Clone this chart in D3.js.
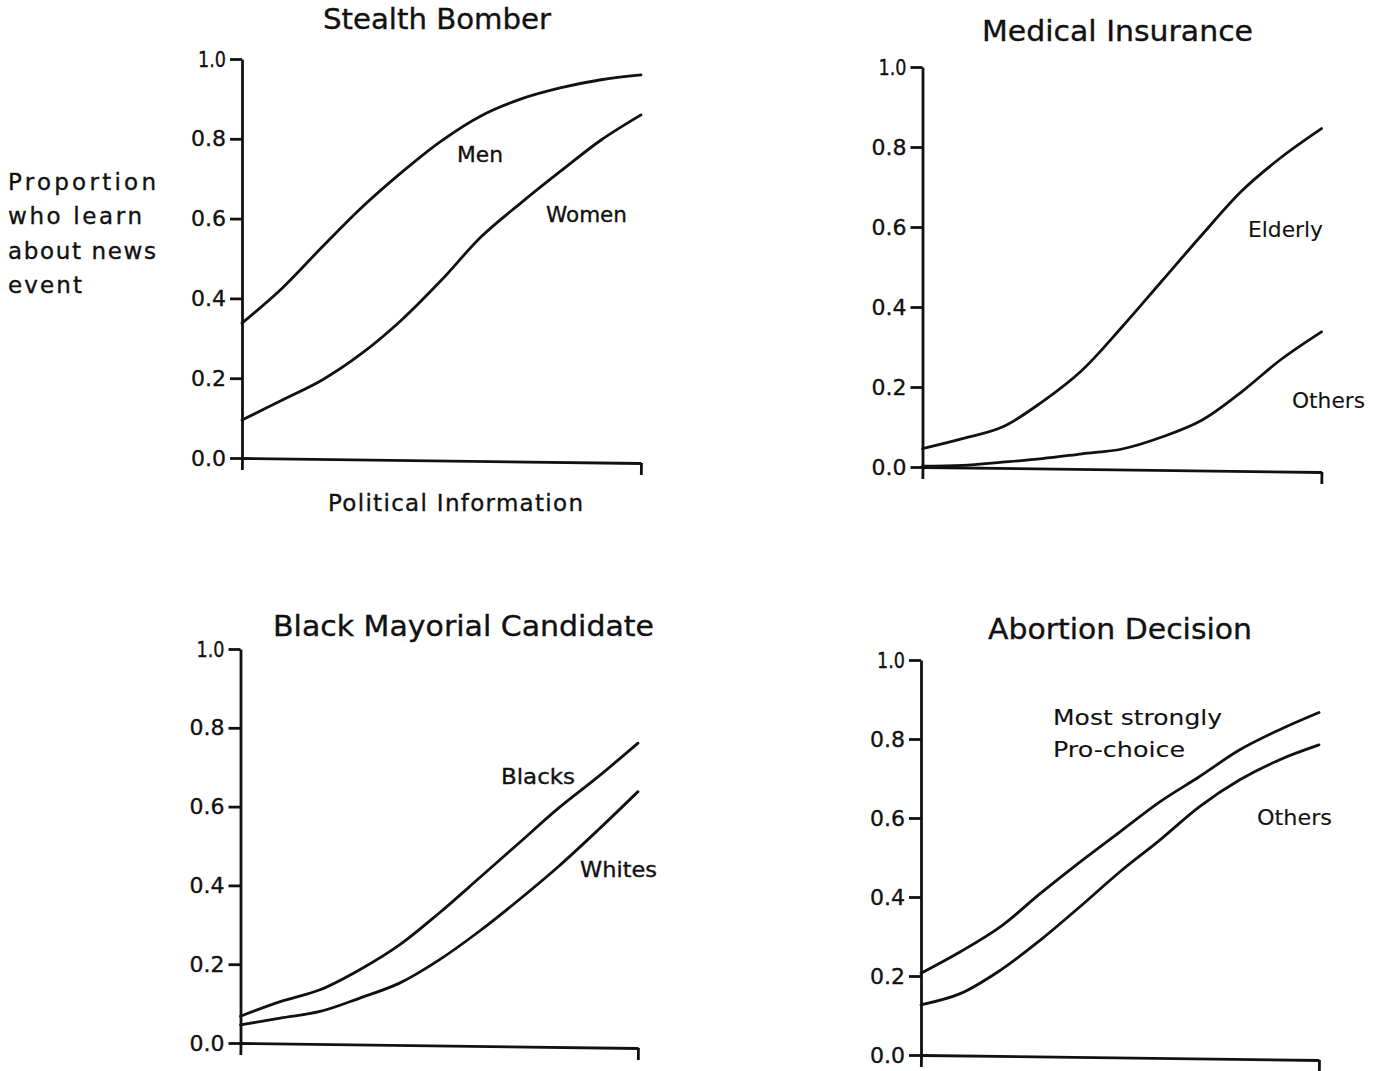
<!DOCTYPE html>
<html>
<head>
<meta charset="utf-8">
<script src="https://cdn.jsdelivr.net/npm/d3@7"></script>
<style>
  html, body { margin: 0; padding: 0; background: #fff; }
  svg { display: block; }
  text { font-family: "DejaVu Sans", Verdana, sans-serif; fill: #111; stroke: #111; stroke-width: 0.35px; }
</style>
</head>
<body>
<svg id="chart" width="1382" height="1071"></svg>
<script>
// ---------- DATA ----------
const infoLevels = [0, 0.1, 0.2, 0.3, 0.4, 0.5, 0.6, 0.7, 0.8, 0.9, 1.0];
const yTicks = [0, 0.2, 0.4, 0.6, 0.8, 1.0];

const panelTitles = ["Stealth Bomber", "Medical Insurance", "Black Mayorial Candidate", "Abortion Decision"];

const stealthMen   = [0.338, 0.425, 0.528, 0.628, 0.716, 0.795, 0.858, 0.900, 0.928, 0.948, 0.960];
const stealthWomen = [0.095, 0.145, 0.195, 0.262, 0.346, 0.446, 0.555, 0.640, 0.720, 0.797, 0.860];

const medicalElderly = [0.046, 0.071, 0.100, 0.163, 0.242, 0.350, 0.465, 0.580, 0.690, 0.775, 0.846];
const medicalOthers  = [0.002, 0.004, 0.012, 0.021, 0.033, 0.045, 0.075, 0.117, 0.188, 0.270, 0.338];

const mayorBlacks = [0.068, 0.105, 0.135, 0.186, 0.249, 0.330, 0.418, 0.507, 0.596, 0.676, 0.761];
const mayorWhites = [0.046, 0.063, 0.080, 0.114, 0.152, 0.211, 0.283, 0.363, 0.448, 0.541, 0.638];

const abortionProChoice = [0.207, 0.262, 0.325, 0.409, 0.489, 0.565, 0.641, 0.705, 0.772, 0.823, 0.867];
const abortionOthers    = [0.127, 0.156, 0.215, 0.291, 0.376, 0.464, 0.544, 0.629, 0.696, 0.747, 0.785];

const seriesLabels = [
  ["Men", "Women"],
  ["Elderly", "Others"],
  ["Blacks", "Whites"],
  ["Most strongly|Pro-choice", "Others"]
];
const xAxisTitle = "Political Information";
const yAxisTitle = ["Proportion", "who learn", "about news", "event"];

// ---------- LAYOUT ----------
const layout = [
  { x0: 242, x1: 641, yTop: 59, yBot: 458,
    title: { x: 323, y: 29, w: 228, fs: 28 },
    labels: [ { x: 457, y: 162, w: 46, fs: 21 }, { x: 546, y: 222, w: 81, fs: 22 } ] },
  { x0: 922.5, x1: 1321.5, yTop: 67, yBot: 467,
    title: { x: 982, y: 41, w: 271, fs: 28 },
    labels: [ { x: 1248, y: 237, w: 75, fs: 22, light: true }, { x: 1292, y: 408, w: 73, fs: 22, light: true } ] },
  { x0: 240.5, x1: 638, yTop: 649, yBot: 1043,
    title: { x: 273, y: 636, w: 381, fs: 28 },
    labels: [ { x: 501, y: 784, w: 74, fs: 22 }, { x: 580, y: 877, w: 77, fs: 22 } ] },
  { x0: 921, x1: 1319, yTop: 660, yBot: 1055,
    title: { x: 988, y: 639, w: 264, fs: 28 },
    labels: [ { x: 1053, y: 725, w: 169, fs: 22, light: true, lineW: [169, 132] }, { x: 1257, y: 825, w: 75, fs: 22, light: true } ] }
];

const panelSeries = [
  [stealthMen, stealthWomen],
  [medicalElderly, medicalOthers],
  [mayorBlacks, mayorWhites],
  [abortionProChoice, abortionOthers]
];

// ---------- DRAW ----------
const svg = d3.select("#chart");
const fmt = d3.format(".1f");
const STROKE = 2.8;

layout.forEach((L, i) => {
  const x = d3.scaleLinear().domain([0, 1]).range([L.x0, L.x1]);
  const y = d3.scaleLinear().domain([0, 1]).range([L.yBot, L.yTop]);
  const g = svg.append("g");

  // title
  g.append("text")
    .attr("x", L.title.x).attr("y", L.title.y)
    .attr("font-size", L.title.fs)
    .attr("textLength", L.title.w).attr("lengthAdjust", "spacingAndGlyphs")
    .text(panelTitles[i]);

  // y axis
  const yAxis = g.append("g")
    .attr("transform", `translate(${L.x0},0)`)
    .call(d3.axisLeft(y).tickValues(yTicks).tickFormat(fmt).tickSize(12).tickSizeOuter(0).tickPadding(4));
  yAxis.selectAll("path.domain, line").attr("stroke", "#111").attr("stroke-width", STROKE);
  yAxis.selectAll("text")
    .attr("font-size", 22)
    .attr("fill", "#111")
    .style("font-family", '"DejaVu Sans", Verdana, sans-serif')
    .attr("textLength", d => d === 1 ? 28 : 35)
    .attr("lengthAdjust", "spacingAndGlyphs");

  // x axis (slightly tilted like the scanned original)
  const xAxis = g.append("g")
    .attr("transform", `translate(0,${L.yBot}) rotate(0.72 ${L.x0} 0)`)
    .call(d3.axisBottom(x).tickValues([0, 1]).tickFormat("").tickSize(12).tickSizeOuter(0));
  xAxis.selectAll("path.domain, line").attr("stroke", "#111").attr("stroke-width", STROKE);

  // lines
  const line = d3.line()
    .x((d, k) => x(infoLevels[k]))
    .y(d => y(d))
    .curve(d3.curveCatmullRom.alpha(0.5));
  panelSeries[i].forEach(s => {
    g.append("path")
      .datum(s)
      .attr("d", line)
      .attr("fill", "none")
      .attr("stroke", "#111")
      .attr("stroke-width", STROKE)
      .attr("stroke-linejoin", "round")
      .attr("stroke-linecap", "round");
  });

  // series labels
  seriesLabels[i].forEach((lab, k) => {
    const P = L.labels[k];
    const lines = lab.split("|");
    lines.forEach((t, j) => {
      const w = P.lineW ? P.lineW[j] : P.w;
      g.append("text")
        .attr("x", P.x).attr("y", P.y + j * 31.5)
        .attr("font-size", P.fs)
        .attr("fill", P.light ? "#2a2a2a" : "#111")
        .style("stroke-width", P.light ? "0.1px" : null)
        .attr("textLength", w).attr("lengthAdjust", "spacingAndGlyphs")
        .text(t);
    });
  });
});

// x-axis title under first panel
svg.append("text")
  .attr("x", 328).attr("y", 511)
  .attr("font-size", 23)
  .attr("textLength", 255).attr("lengthAdjust", "spacing")
  .text(xAxisTitle);

// y-axis title at left
const yTitleW = [148, 134, 148, 74];
yAxisTitle.forEach((t, j) => {
  svg.append("text")
    .attr("x", 8).attr("y", 190 + j * 34.3)
    .attr("font-size", 23)
    .attr("textLength", yTitleW[j]).attr("lengthAdjust", "spacing")
    .text(t);
});
</script>
</body>
</html>
